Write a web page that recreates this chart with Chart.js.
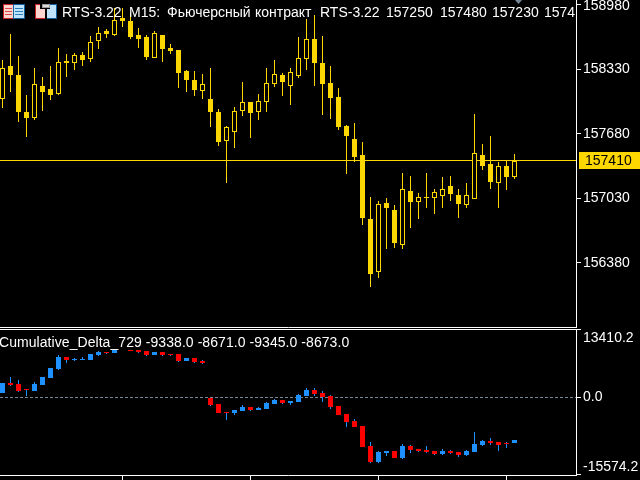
<!DOCTYPE html>
<html>

<head>
    <title>RTS-3.22 M15</title>
    <script src="https://cdn.jsdelivr.net/npm/chart.js"></script>
    <style>
        html, body {
            margin: 0;
            background: #000;
            overflow: hidden;
        }

        canvas {
            position: absolute;
            left: 0;
        }

        #price-chart { top: 0; }
        #delta-chart { top: 328px; }
    </style>
</head>

<body>
    <canvas id="price-chart" width="640" height="328"></canvas>
    <canvas id="delta-chart" width="640" height="152"></canvas>

    <script>
        // Price candles, one entry per bar
        const priceOpen = [158030, 158360, 158270, 157900, 157840, 158160, 158130, 158080, 158420, 158400, 158480, 158440, 158620, 158720, 158680, 158850, 158820, 158680, 158660, 158450, 158680, 158550, 158530, 158310, 158220, 158110, 158030, 157900, 157610, 157700, 157910, 158000, 157900, 158000, 158180, 158270, 158160, 158260, 158440, 158640, 158400, 158190, 158050, 157760, 157630, 157470, 156820, 156290, 156980, 156910, 156560, 157100, 156990, 157040, 157030, 157050, 157160, 157060, 156960, 157020, 157470, 157380, 157190, 157360, 157250];
        const priceHigh = [158430, 158690, 158470, 158070, 158340, 158250, 158360, 158550, 158490, 158500, 158510, 158670, 158760, 158740, 158950, 158950, 158900, 158750, 158680, 158720, 158680, 158590, 158530, 158320, 158310, 158280, 158340, 157930, 157760, 157950, 158200, 158000, 158080, 158340, 158430, 158290, 158340, 158660, 158840, 158880, 158670, 158360, 158140, 157770, 157790, 157600, 157040, 157000, 157030, 156960, 157290, 157260, 157080, 157290, 157120, 157250, 157260, 157120, 157190, 157880, 157580, 157660, 157400, 157410, 157480];
        const priceLow = [157940, 158100, 157800, 157650, 157820, 157910, 158020, 158070, 158250, 158320, 158360, 158410, 158540, 158650, 158670, 158760, 158640, 158550, 158430, 158450, 158410, 158490, 158140, 158100, 158060, 158030, 157750, 157560, 157190, 157540, 157860, 157640, 157820, 157900, 158150, 158060, 157970, 158240, 158320, 158160, 157870, 157830, 157720, 157280, 157400, 156760, 156140, 156230, 156520, 156530, 156520, 156730, 156820, 156930, 156870, 156930, 157000, 156830, 156930, 157020, 157320, 157130, 156930, 157110, 157230];
        const priceClose = [158340, 158270, 157900, 157840, 158180, 158100, 158070, 158410, 158400, 158480, 158430, 158610, 158700, 158690, 158830, 158820, 158660, 158640, 158460, 158700, 158540, 158520, 158290, 158220, 158120, 158180, 157900, 157600, 157750, 157910, 158000, 157890, 158010, 158190, 158280, 158200, 158300, 158450, 158640, 158390, 158180, 158040, 157750, 157660, 157450, 156830, 156270, 156970, 156930, 156580, 157120, 156990, 157040, 157030, 157090, 157130, 157070, 156970, 157060, 157490, 157360, 157200, 157360, 157250, 157410];

        // Cumulative delta candles (null = bar not visible in the panel)
        const deltaOpen = [808, 2828, 2626, 1616, 1212, 2424, 3838, 5656, 8080, 7474, 7474, 7474, 8484, 9090, 8888, null, 9494, 9494, 9292, 8484, 9090, 8686, 8686, 7272, 7878, 7272, -202, -1414, -3030, -3232, -2828, -2020, -2626, -2424, -1414, -606, -1212, -1010, 202, 1414, 808, 202, -1818, -3434, -4848, -5858, -9898, -13130, -11312, -10908, -12322, -9898, -10504, -10706, -10908, -11514, -10908, -11110, -11716, -11110, -9696, -8888, -9090, -9292, -9338];
        const deltaHigh = [2828, 4040, 3434, 1616, 3030, 4040, 5858, 8484, 8080, 7878, 8080, 8686, 9292, 9090, 9494, null, 9494, 9494, 9292, 9090, 9090, 8686, 8686, 7878, 7878, 7474, -202, -1414, -3030, -2626, -1616, -2020, -2020, -1010, -404, -606, -808, 606, 1818, 1818, 1212, 404, -1818, -3434, -4444, -5858, -9090, -10908, -10908, -10908, -9494, -9696, -10504, -9898, -10908, -10504, -10706, -11110, -10706, -7070, -8686, -8282, -9090, -9090, -8671];
        const deltaLow = [808, 2222, 1010, 202, 1212, 2424, 3838, 5454, 6868, 7272, 7474, 7474, 8282, 8686, 8888, null, 9292, 8888, 8282, 8484, 8282, 8282, 7070, 7272, 6868, 6666, -1818, -3232, -4646, -3636, -2828, -2828, -2626, -2424, -1414, -1414, -1616, -1010, 202, 202, -1010, -2424, -3636, -6060, -6060, -10100, -13332, -13332, -11918, -12322, -12524, -11312, -11110, -11312, -11716, -11716, -11514, -12120, -11918, -11110, -9898, -9696, -10908, -10302, -9345];
        const deltaClose = [2828, 2424, 1212, 1414, 2626, 4040, 5858, 8080, 7474, 7676, 7676, 8686, 9090, 8888, 9494, null, 9292, 9090, 8484, 9090, 8484, 8484, 7272, 7878, 7070, 6868, -1616, -3232, -3232, -2626, -2020, -2626, -2222, -1212, -606, -1212, -808, 404, 1414, 606, 0, -2020, -3636, -5050, -6060, -10100, -13130, -11110, -10908, -12322, -9898, -10706, -10908, -11110, -11514, -10908, -11312, -11716, -10908, -9494, -8888, -9292, -9696, -9494, -8673];

        // Axis values and header texts
        const priceTicks = [158980, 158330, 157680, 157030, 156380];
        const deltaTicks = [13410.2, 0, -15574.2];
        const timeTicks = [15, 31, 47, 63];
        const lastPrice = 157410;
        const priceTitle = [
            ['RTS-3.22', 62],
            ['M15:', 129],
            ['Фьючерсный', 167],
            ['контракт', 255],
            ['RTS-3.22', 320],
            ['157250', 386],
            ['157480', 440],
            ['157230', 492],
            ['157410', 544]
        ];
        const deltaTitle = 'Cumulative_Delta_729 -9338.0 -8671.0 -9345.0 -8673.0';

        const GOLD = '#ffd700';
        const BLUE = '#1e90ff';
        const RED = '#ff0000';
        const FONT = '14px "Liberation Sans"';

        // 8 px per bar, first bar centred at x = 2.5
        const xMin = -0.3125;
        const xMax = 71.6875;

        function candleData(open, high, low, close) {
            const wicks = [];
            const bodies = [];
            open.forEach(function (o, i) {
                if (o === null) return;
                wicks.push({ x: i, y: [low[i], high[i]] });
                bodies.push({ x: i, y: [o, close[i]] });
            });
            return { wicks: wicks, bodies: bodies };
        }

        // Bars land on whole pixels, like the terminal draws them
        const snapPlugin = {
            id: 'snap',
            beforeDatasetsDraw(chart) {
                chart.data.datasets.forEach(function (ds, i) {
                    chart.getDatasetMeta(i).data.forEach(function (el) {
                        if (ds.type === 'line') {
                            el.y = Math.floor(el.y) + 0.5;
                        } else {
                            el.y = Math.round(el.y);
                            el.base = Math.round(el.base);
                        }
                    });
                });
            }
        };

        function makePanel(id, cfg) {
            const candles = candleData(cfg.open, cfg.high, cfg.low, cfg.close);
            return new Chart(document.getElementById(id), {
                type: 'bar',
                data: {
                    datasets: [
                        {
                            type: 'bar',
                            grouped: false,
                            order: 1,
                            data: candles.bodies,
                            barThickness: 5,
                            inflateAmount: 0,
                            borderWidth: 1,
                            borderSkipped: false,
                            borderColor: cfg.borderColor,
                            backgroundColor: cfg.fillColor
                        },
                        {
                            type: 'bar',
                            grouped: false,
                            order: 2,
                            data: candles.wicks,
                            barThickness: 1,
                            inflateAmount: 0,
                            backgroundColor: cfg.wickColor
                        },
                        {
                            type: 'line',
                            order: 3,
                            data: [{ x: xMin, y: cfg.level }, { x: xMax, y: cfg.level }],
                            borderColor: cfg.levelColor,
                            borderWidth: 1,
                            borderDash: cfg.levelDash,
                            pointRadius: 0
                        }
                    ]
                },
                options: {
                    responsive: false,
                    animation: false,
                    events: [],
                    layout: { padding: { top: cfg.paddingTop } },
                    plugins: { legend: { display: false }, tooltip: { enabled: false } },
                    scales: {
                        x: {
                            type: 'linear',
                            offset: false,
                            min: xMin,
                            max: xMax,
                            afterBuildTicks: function (s) { s.ticks = cfg.xTicks.map(function (v) { return { value: v }; }); },
                            afterFit: function (s) { s.height = cfg.xHeight; },
                            ticks: { display: false, autoSkip: false },
                            border: { color: '#fff', width: 1 },
                            grid: { offset: false, drawOnChartArea: false, drawTicks: cfg.xHeight > 1, tickLength: 5, tickColor: '#fff' }
                        },
                        y: {
                            position: 'right',
                            min: cfg.yMin,
                            max: cfg.yMax,
                            afterBuildTicks: function (s) { s.ticks = cfg.yTicks.map(function (v) { return { value: v }; }); },
                            afterFit: function (s) { s.width = 64; },
                            ticks: { display: false, autoSkip: false },
                            border: { color: '#fff', width: 1 },
                            grid: { drawOnChartArea: false, tickLength: 5, tickColor: cfg.tickColor }
                        }
                    }
                },
                plugins: [snapPlugin, cfg.overlay]
            });
        }

        function drawIcons(ctx) {
            // list icon
            ctx.fillStyle = '#c82020';
            ctx.fillRect(3, 4, 11, 15);
            ctx.fillStyle = '#0f5f9f';
            ctx.fillRect(13, 4, 12, 15);
            ctx.fillStyle = '#ffd5d0';
            ctx.fillRect(4, 5, 9, 13);
            ctx.fillStyle = '#bfe3fa';
            ctx.fillRect(14, 5, 10, 13);
            ctx.fillStyle = '#d84a4a';
            [8, 11, 14].forEach(function (y) { ctx.fillRect(5, y, 7, 1); });
            ctx.fillStyle = '#2a7fc0';
            [8, 11, 14].forEach(function (y) { ctx.fillRect(15, y, 8, 1); });
            // save icon
            ctx.fillStyle = '#c82020';
            ctx.fillRect(35, 4, 11, 15);
            ctx.fillStyle = '#0f5f9f';
            ctx.fillRect(46, 4, 11, 15);
            ctx.fillStyle = '#ffd5d0';
            ctx.fillRect(36, 5, 9, 13);
            ctx.fillStyle = '#bfe3fa';
            ctx.fillRect(47, 5, 9, 13);
            ctx.fillStyle = '#000';
            ctx.fillRect(40, 3, 10, 6);
            ctx.fillRect(45, 9, 2, 10);
            ctx.fillStyle = '#9a9a9a';
            ctx.fillRect(42, 4, 8, 4);
            ctx.fillStyle = '#dddddd';
            ctx.fillRect(43, 5, 6, 2);
        }

        const priceOverlay = {
            id: 'priceOverlay',
            afterDraw(chart) {
                const ctx = chart.ctx;
                const scale = chart.scales.y;
                ctx.save();
                drawIcons(ctx);

                // shift marker
                ctx.fillStyle = '#778899';
                ctx.beginPath();
                ctx.moveTo(515, 0);
                ctx.lineTo(522, 0);
                ctx.lineTo(518.5, 4);
                ctx.fill();

                ctx.font = FONT;
                ctx.fillStyle = '#fff';
                ctx.textBaseline = 'middle';
                priceTicks.forEach(function (v) {
                    ctx.fillText(String(v), 583, Math.max(scale.getPixelForValue(v), 6));
                });

                // header, cut off by the price axis
                ctx.textBaseline = 'alphabetic';
                ctx.beginPath();
                ctx.rect(0, 0, 575, 30);
                ctx.clip();
                priceTitle.forEach(function (t) { ctx.fillText(t[0], t[1], 17); });
                ctx.restore();

                // last price tag
                const y = Math.floor(scale.getPixelForValue(lastPrice));
                ctx.save();
                ctx.fillStyle = GOLD;
                ctx.fillRect(579, y - 8, 61, 17);
                ctx.fillStyle = '#000';
                ctx.font = FONT;
                ctx.textBaseline = 'middle';
                ctx.fillText(String(lastPrice), 585, y + 1);
                ctx.restore();
            }
        };

        const deltaOverlay = {
            id: 'deltaOverlay',
            afterDraw(chart) {
                const ctx = chart.ctx;
                const scale = chart.scales.y;
                const nudge = [8, 0, -7];
                ctx.save();
                ctx.fillStyle = '#fff';
                ctx.fillRect(0, 1, 581, 1);
                ctx.font = FONT;
                ctx.textBaseline = 'middle';
                deltaTicks.forEach(function (v, i) {
                    ctx.fillText(v.toFixed(1), 583, scale.getPixelForValue(v) + nudge[i]);
                });
                ctx.textBaseline = 'alphabetic';
                ctx.letterSpacing = '0.06px';
                ctx.fillText(deltaTitle, -1, 19);
                ctx.restore();
            }
        };

        function isUp(ctx) {
            return ctx.raw && ctx.raw.y[1] > ctx.raw.y[0];
        }

        function deltaColor(ctx) {
            return isUp(ctx) ? BLUE : RED;
        }

        makePanel('price-chart', {
            open: priceOpen, high: priceHigh, low: priceLow, close: priceClose,
            level: lastPrice, levelColor: GOLD, levelDash: [],
            borderColor: GOLD,
            fillColor: function (ctx) { return isUp(ctx) ? '#000' : GOLD; },
            wickColor: GOLD,
            yMin: 155734, yMax: 159030, yTicks: priceTicks,
            tickColor: '#fff',
            xTicks: [], xHeight: 1, paddingTop: 0,
            overlay: priceOverlay
        });

        makePanel('delta-chart', {
            open: deltaOpen, high: deltaHigh, low: deltaLow, close: deltaClose,
            level: 0, levelColor: '#778899', levelDash: [3, 2],
            borderColor: deltaColor,
            fillColor: deltaColor,
            wickColor: deltaColor,
            yMin: -15756, yMax: 13534, yTicks: deltaTicks,
            tickColor: function (ctx) { return ctx.tick && ctx.tick.value > 0 ? 'rgba(0,0,0,0)' : '#fff'; },
            xTicks: timeTicks, xHeight: 5, paddingTop: 2,
            overlay: deltaOverlay
        });
    </script>
</body>

</html>
